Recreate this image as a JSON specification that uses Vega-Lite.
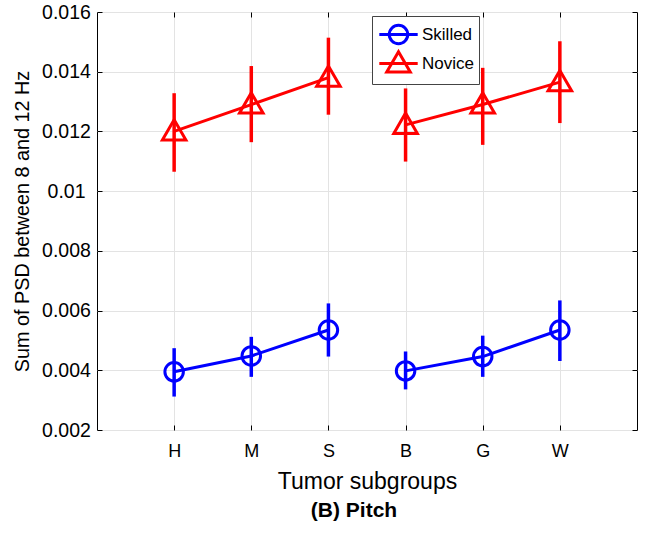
{
  "$schema": "https://vega.github.io/schema/vega-lite/v6.json",
  "width": 540,
  "height": 418,
  "autosize": {"type": "none"},
  "padding": {"left": 97, "top": 12, "right": 10, "bottom": 104},
  "background": "white",
  "config": {
    "font": "Liberation Sans",
    "view": {"stroke": "black", "strokeWidth": 1},
    "axis": {"domain": false, "tickColor": "black", "labelColor": "black", "titleColor": "black", "gridColor": "#e3e3e3", "titleFontWeight": "normal"}
  },
  "title": {"text": "(B) Pitch", "orient": "bottom", "frame": "group", "anchor": "middle", "fontSize": 21, "fontWeight": "bold", "offset": 7, "dx": -13, "color": "black"},
  "data": {
    "values": [
      {"group": "H", "series": "Skilled", "set": "Skilled1", "mean": 0.00395, "lo": 0.00312, "hi": 0.00474},
      {"group": "M", "series": "Skilled", "set": "Skilled1", "mean": 0.00448, "lo": 0.00378, "hi": 0.00512},
      {"group": "S", "series": "Skilled", "set": "Skilled1", "mean": 0.00535, "lo": 0.00446, "hi": 0.00624},
      {"group": "B", "series": "Skilled", "set": "Skilled2", "mean": 0.00398, "lo": 0.00336, "hi": 0.00463},
      {"group": "G", "series": "Skilled", "set": "Skilled2", "mean": 0.00446, "lo": 0.00378, "hi": 0.00516},
      {"group": "W", "series": "Skilled", "set": "Skilled2", "mean": 0.00535, "lo": 0.00431, "hi": 0.00634},
      {"group": "H", "series": "Novice", "set": "Novice1", "mean": 0.0120, "lo": 0.01065, "hi": 0.01328},
      {"group": "M", "series": "Novice", "set": "Novice1", "mean": 0.0129, "lo": 0.01164, "hi": 0.01419},
      {"group": "S", "series": "Novice", "set": "Novice1", "mean": 0.0138, "lo": 0.01256, "hi": 0.01514},
      {"group": "B", "series": "Novice", "set": "Novice2", "mean": 0.01222, "lo": 0.01099, "hi": 0.01344},
      {"group": "G", "series": "Novice", "set": "Novice2", "mean": 0.0129, "lo": 0.01155, "hi": 0.01413},
      {"group": "W", "series": "Novice", "set": "Novice2", "mean": 0.01365, "lo": 0.01228, "hi": 0.01502}
    ]
  },
  "resolve": {"axis": {"x": "independent", "y": "independent"}},
  "encoding": {
    "x": {"field": "group", "type": "ordinal", "sort": ["H", "M", "S", "B", "G", "W"], "scale": {"type": "point", "padding": 1}, "axis": null},
    "y": {"field": "mean", "type": "quantitative", "scale": {"domain": [0.002, 0.016], "nice": false, "zero": false}, "axis": null}
  },
  "layer": [
    {
      "transform": [{"filter": "datum.series === 'Skilled'"}],
      "mark": {"type": "rule", "strokeWidth": 3.5, "color": "#0000ff"},
      "encoding": {
        "x": {"field": "group", "type": "ordinal", "sort": ["H", "M", "S", "B", "G", "W"], "scale": {"type": "point", "padding": 1},
          "axis": {"orient": "bottom", "title": "Tumor subgroups", "titleFontSize": 23, "titlePadding": 10, "labelFontSize": 18, "labelAngle": 0, "labelPadding": 17, "tickSize": -5, "grid": true}},
        "y": {"field": "lo", "type": "quantitative", "scale": {"domain": [0.002, 0.016], "nice": false, "zero": false},
          "axis": {"orient": "left", "title": "Sum of PSD between 8 and 12 Hz", "titleFontSize": 19.8, "titlePadding": 9, "labelFontSize": 19.5, "labelAlign": "center", "labelPadding": 36, "tickSize": -5, "grid": true, "values": [0.002, 0.004, 0.006, 0.008, 0.01, 0.012, 0.014, 0.016], "format": ".3~f"}},
        "y2": {"field": "hi"}
      }
    },
    {
      "transform": [{"filter": "datum.series === 'Novice'"}],
      "mark": {"type": "rule", "strokeWidth": 3.5, "color": "#ff0000"},
      "encoding": {
        "y": {"field": "lo", "type": "quantitative", "axis": null},
        "y2": {"field": "hi"}
      }
    },
    {
      "transform": [{"filter": "datum.series === 'Skilled'"}],
      "mark": {"type": "line", "strokeWidth": 3, "color": "#0000ff"},
      "encoding": {
        "x": {"field": "group", "type": "ordinal", "sort": ["H", "M", "S", "B", "G", "W"],
          "axis": {"orient": "top", "title": null, "labels": false, "tickSize": -5, "grid": false}},
        "y": {"field": "mean", "type": "quantitative",
          "axis": {"orient": "right", "title": null, "labels": false, "tickSize": -5, "grid": false, "values": [0.002, 0.004, 0.006, 0.008, 0.01, 0.012, 0.014, 0.016]}},
        "detail": {"field": "set"}
      }
    },
    {
      "transform": [{"filter": "datum.series === 'Novice'"}],
      "mark": {"type": "line", "strokeWidth": 3, "color": "#ff0000"},
      "encoding": {
        "detail": {"field": "set"}
      }
    },
    {
      "transform": [{"filter": "datum.series === 'Skilled'"}],
      "mark": {"type": "point", "shape": "circle", "size": 342, "filled": false, "strokeWidth": 3, "opacity": 1, "color": "#0000ff"}
    },
    {
      "transform": [{"filter": "datum.series === 'Novice'"}],
      "mark": {"type": "point", "shape": "M0,-0.98L0.98,0.71L-0.98,0.71Z", "size": 576, "filled": false, "strokeWidth": 3, "opacity": 1, "color": "#ff0000"}
    },
    {
      "transform": [{"filter": "datum.series === 'none'"}],
      "mark": {"type": "point", "filled": false, "opacity": 1, "strokeWidth": 3},
      "encoding": {
        "shape": {"field": "series", "type": "nominal",
          "scale": {"domain": ["Skilled", "Novice"], "range": ["M-1.6,0L1.6,0M0.77,0A0.77,0.77,0,1,1,-0.77,0A0.77,0.77,0,1,1,0.77,0", "M-1.6,0L1.6,0M0,-0.98L0.98,0.71L-0.98,0.71Z"]},
          "legend": {"title": null, "orient": "none", "legendX": 275, "legendY": 4, "symbolSize": 576, "symbolOpacity": 1, "symbolStrokeWidth": 3, "symbolFillColor": "transparent", "labelFontSize": 17, "labelColor": "black", "labelOffset": 10, "symbolOffset": 8, "padding": 5, "rowPadding": -15, "strokeColor": "#444444", "fillColor": "white"}},
        "color": {"field": "series", "type": "nominal", "scale": {"domain": ["Skilled", "Novice"], "range": ["#0000ff", "#ff0000"]},
          "legend": {"title": null, "orient": "none", "legendX": 275, "legendY": 4, "symbolSize": 576, "symbolOpacity": 1, "symbolStrokeWidth": 3, "symbolFillColor": "transparent", "labelFontSize": 17, "labelColor": "black", "labelOffset": 10, "symbolOffset": 8, "padding": 5, "rowPadding": -15, "strokeColor": "#444444", "fillColor": "white"}}
      }
    }
  ]
}
